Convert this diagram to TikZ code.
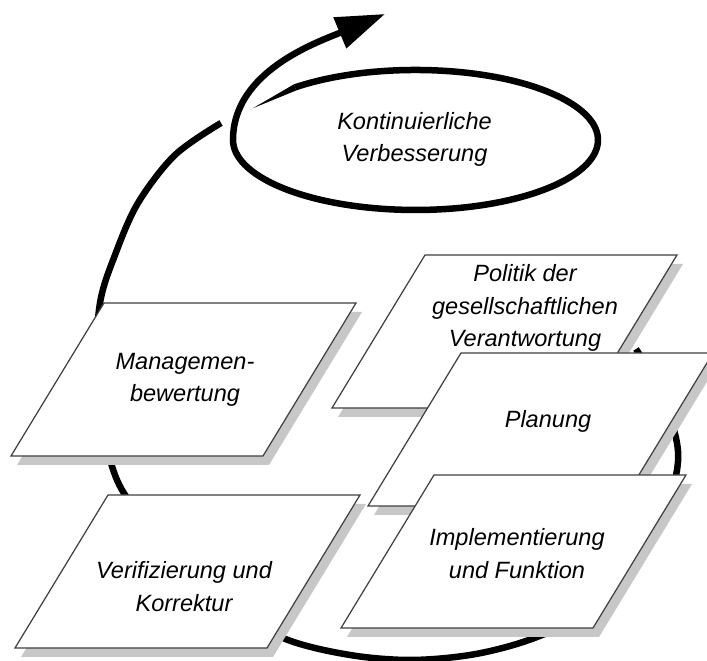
\documentclass[tikz,border=0pt]{standalone}
\usepackage{fontspec}
\setmainfont{Liberation Sans}
\usetikzlibrary{arrows.meta}

\begin{document}
\begin{tikzpicture}[x=0.2mm, y=0.2mm,
    pfeil/.style={line width=3.7pt, black},
    blatt/.style={fill=white, draw=black!75, line width=0.7pt},
    schatten/.style={fill=black!22, shift={(6,-9)}},
    txt/.style={align=center, font=\itshape\fontsize{13.4}{18.5}\selectfont}]
    \useasboundingbox (0,0) rectangle (707,661);
    % Big cycle: tail behind the right boxes, round the bottom, up the left side
    \draw[pfeil] plot[smooth, tension=0.55] coordinates {(636,312) (660,271) (676,223) (677,191) (664,146) (640,104) (608,67) (570,39) (523,19) (470,6) (410,1) (350,6) (288,21) (230,51) (180,94) (140,145) (117,181) (103,231) (96,291) (100,358) (115,406) (138,458) (175,506) (221,538)};
    % Loop round the ellipse and out to the tip
    \fill (252.9,552.8) -- (294.0,576.7) -- (296.1,570.5) -- cycle;
    \draw[pfeil, -{Triangle[length=9.8mm, width=6.4mm]}] (295.05,573.6) arc[start angle=131.3, end angle=-180, x radius=182.5, y radius=70] .. controls (233,590) and (318,619) .. (385,647);
    \node[txt] (kv) at (414.5,521.5) {Kontinuierliche\\Verbesserung};
    % Management
    \fill[schatten] (11,205) -- ++(252,0) -- ++(93,153) -- ++(-252,0) -- cycle;
    \filldraw[blatt] (11,205) -- ++(252,0) -- ++(93,153) -- ++(-252,0) -- cycle;
    \node[txt] (mgmt) at (185,281) {Managemen-\\bewertung};
    % Verifizierung
    \fill[schatten] (15,13) -- ++(252,0) -- ++(93,153) -- ++(-252,0) -- cycle;
    \filldraw[blatt] (15,13) -- ++(252,0) -- ++(93,153) -- ++(-252,0) -- cycle;
    \node[txt] (verif) at (184,74.5) {Verifizierung und\\Korrektur};
    % Politik
    \fill[schatten] (332,253) -- ++(252,0) -- ++(93,153) -- ++(-252,0) -- cycle;
    \filldraw[blatt] (332,253) -- ++(252,0) -- ++(93,153) -- ++(-252,0) -- cycle;
    \node[txt] (politik) at (525,353) {Politik der\\gesellschaftlichen\\Verantwortung};
    % Planung
    \fill[schatten] (368,155) -- ++(252,0) -- ++(93,153) -- ++(-252,0) -- cycle;
    \filldraw[blatt] (368,155) -- ++(252,0) -- ++(93,153) -- ++(-252,0) -- cycle;
    \node[txt] (plan) at (548,240) {Planung};
    % Implementierung
    \fill[schatten] (341,33) -- ++(252,0) -- ++(93,153) -- ++(-252,0) -- cycle;
    \filldraw[blatt] (341,33) -- ++(252,0) -- ++(93,153) -- ++(-252,0) -- cycle;
    \node[txt] (impl) at (517,107.5) {Implementierung\\und Funktion};
\end{tikzpicture}
\end{document}
